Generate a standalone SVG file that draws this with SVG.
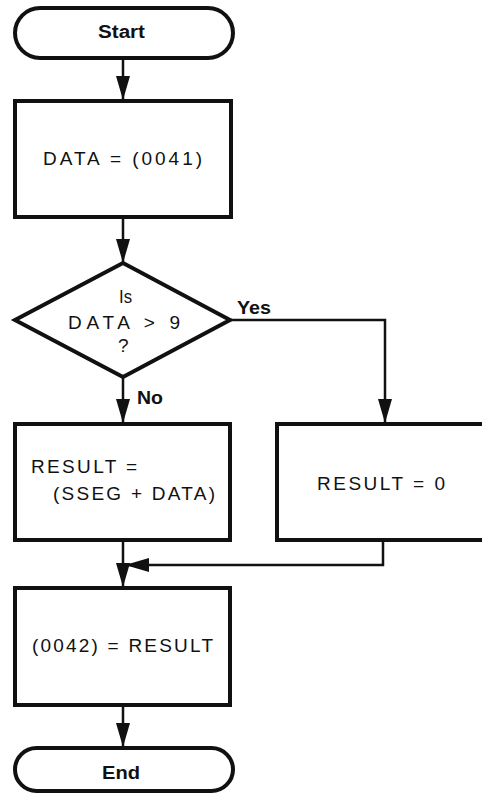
<svg xmlns="http://www.w3.org/2000/svg" width="482" height="799" viewBox="0 0 482 799">
<style>
.shape{fill:#fff;stroke:#111;stroke-width:4;stroke-linejoin:miter}
.line{fill:none;stroke:#111;stroke-width:2.5}
text{font-family:"Liberation Sans",Arial,sans-serif;fill:#111;font-size:19px}
.term{font-weight:bold;font-size:18px}
</style>
<defs>
<marker id="arr" viewBox="0 0 24 14" refX="24" refY="7" markerWidth="24" markerHeight="14" markerUnits="userSpaceOnUse" orient="auto">
<path d="M0,0 L24,7 L0,14 Z" fill="#111"/>
</marker>
</defs>
<rect width="482" height="799" fill="#fff"/>
<g id="connectors">
<line class="line" x1="123" y1="59" x2="123" y2="100" marker-end="url(#arr)"/>
<line class="line" x1="123" y1="217" x2="123" y2="263" marker-end="url(#arr)"/>
<polyline class="line" points="230,320 385,320 385,423" marker-end="url(#arr)"/>
<line class="line" x1="123" y1="377" x2="123" y2="423" marker-end="url(#arr)"/>
<line class="line" x1="123" y1="540" x2="123" y2="587" marker-end="url(#arr)"/>
<polyline class="line" points="383,540 383,565 125,565" marker-end="url(#arr)"/>
<line class="line" x1="123" y1="705" x2="123" y2="747" marker-end="url(#arr)"/>
<text class="term" x="237" y="314" textLength="34" lengthAdjust="spacingAndGlyphs">Yes</text>
<text class="term" x="137" y="404" textLength="26" lengthAdjust="spacingAndGlyphs">No</text>
</g>
<g id="start">
<rect class="shape" x="15" y="8" width="218" height="50" rx="25" ry="25"/>
<text class="term" x="98" y="38" textLength="47" lengthAdjust="spacingAndGlyphs">Start</text>
</g>
<g id="data">
<rect class="shape" x="15" y="101" width="216" height="116"/>
<text x="43" y="165" textLength="159" lengthAdjust="spacing">DATA = (0041)</text>
</g>
<g id="decision">
<polygon class="shape" points="123,263 230,320 123,377 15,320"/>
<text x="119" y="303" textLength="13" lengthAdjust="spacingAndGlyphs">Is</text>
<text x="68" y="329" textLength="112" lengthAdjust="spacing">DATA &gt; 9</text>
<text x="118" y="352">?</text>
</g>
<g id="result-sum">
<rect class="shape" x="15" y="424" width="215" height="116"/>
<text x="31" y="473" textLength="106" lengthAdjust="spacing">RESULT  =</text>
<text x="53" y="500" textLength="162" lengthAdjust="spacing">(SSEG + DATA)</text>
</g>
<g id="result-zero">
<rect class="shape" x="277" y="424" width="210" height="116"/>
<text x="317" y="490" textLength="128" lengthAdjust="spacing">RESULT = 0</text>
</g>
<g id="store">
<rect class="shape" x="15" y="588" width="215" height="117"/>
<text x="32" y="652" textLength="181" lengthAdjust="spacing">(0042) = RESULT</text>
</g>
<g id="end">
<rect class="shape" x="15" y="748" width="218" height="43" rx="21.5" ry="21.5"/>
<text class="term" x="102" y="779" textLength="38" lengthAdjust="spacingAndGlyphs">End</text>
</g>
</svg>
